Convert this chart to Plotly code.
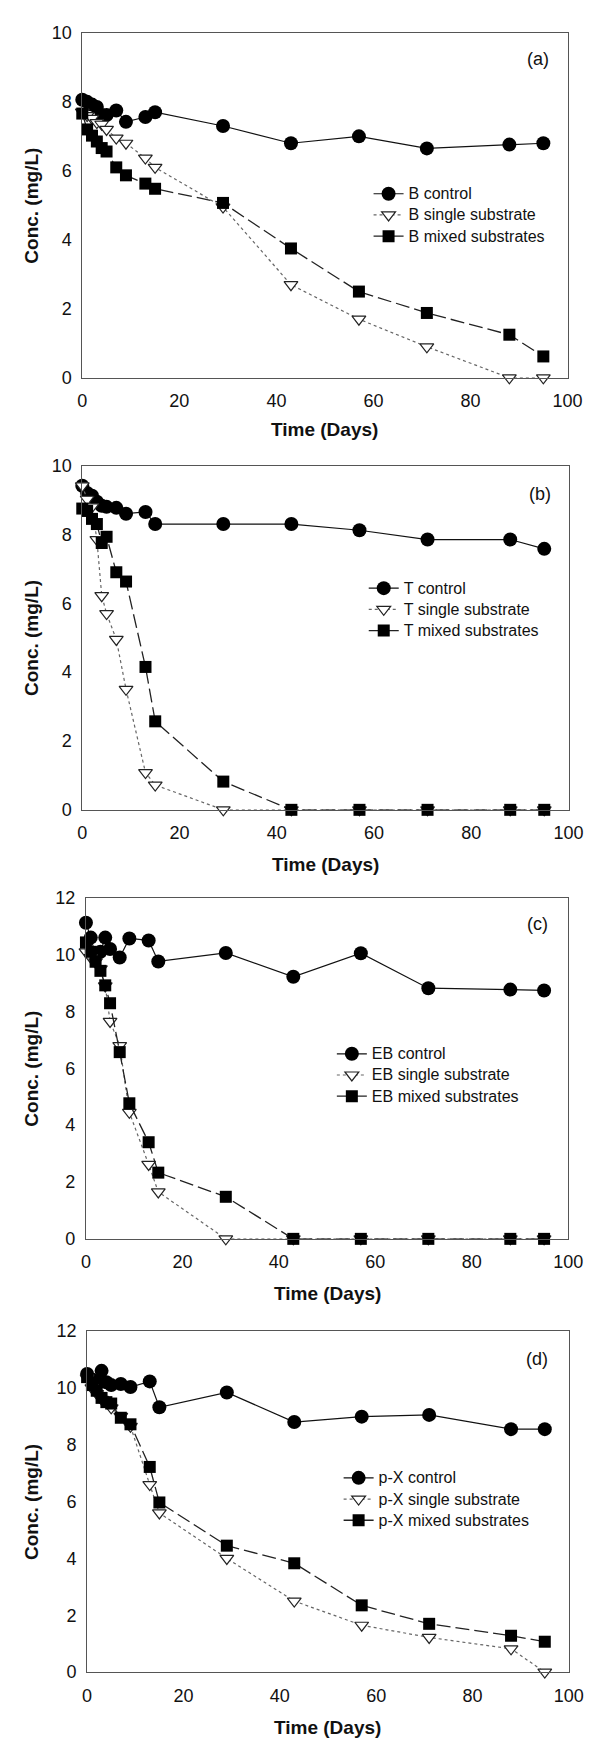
import plotly.graph_objects as go

# ---------------- data ----------------
time_days = [0, 1, 2, 3, 4, 5, 7, 9, 13, 15, 29, 43, 57, 71, 88, 95]

B_control = [8.06, 8.0, 7.92, 7.85, 7.62, 7.62, 7.75, 7.42, 7.56, 7.7, 7.3, 6.8, 7.0, 6.65, 6.76, 6.8]
B_single = [7.7, 7.6, 7.52, 7.4, 7.35, 7.2, 6.95, 6.8, 6.37, 6.1, 4.95, 2.7, 1.7, 0.9, 0.0, 0.0]
B_mixed = [7.66, 7.2, 7.02, 6.85, 6.66, 6.56, 6.1, 5.87, 5.63, 5.48, 5.07, 3.75, 2.5, 1.88, 1.25, 0.62]

T_control = [9.41, 9.2, 9.12, 8.95, 8.83, 8.8, 8.77, 8.6, 8.65, 8.3, 8.3, 8.3, 8.12, 7.85, 7.85, 7.58]
T_single = [9.41, 9.02, 8.8, 7.85, 6.22, 5.7, 4.95, 3.5, 1.08, 0.72, 0.0, 0.0, 0.0, 0.0, 0.0, 0.0]
T_mixed = [8.75, 8.68, 8.45, 8.3, 7.75, 7.93, 6.9, 6.63, 4.15, 2.57, 0.82, 0.0, 0.0, 0.0, 0.0, 0.0]

EB_control = [11.12, 10.6, 9.97, 10.1, 10.6, 10.2, 9.9, 10.57, 10.5, 9.76, 10.06, 9.22, 10.05, 8.82, 8.77, 8.74]
EB_single = [10.1, 9.9, 9.75, 9.5, 8.9, 7.65, 6.8, 4.45, 2.62, 1.65, 0.0, 0.0, 0.0, 0.0, 0.0, 0.0]
EB_mixed = [10.43, 10.1, 9.75, 9.43, 8.92, 8.29, 6.57, 4.77, 3.4, 2.33, 1.48, 0.0, 0.0, 0.0, 0.0, 0.0]

pX_control = [10.49, 10.3, 10.2, 10.6, 10.2, 10.1, 10.14, 10.03, 10.23, 9.32, 9.84, 8.8, 8.99, 9.05, 8.55, 8.55]
pX_single = [10.35, 10.0, 9.8, 9.6, 9.5, 9.3, 9.0, 8.65, 6.6, 5.6, 4.0, 2.5, 1.65, 1.22, 0.82, 0.0]
pX_mixed = [10.38, 10.1, 9.9, 9.65, 9.5, 9.45, 8.95, 8.72, 7.22, 5.97, 4.45, 3.83, 2.35, 1.7, 1.28, 1.07]

compounds = ["B", "T", "EB", "p-X"]
panel_labels = ["(a)", "(b)", "(c)", "(d)"]
y_max = [10, 10, 12, 12]
x_ticks = [0, 20, 40, 60, 80, 100]
x_title = "Time (Days)"
y_title = "Conc. (mg/L)"
series_names = ["control", "single substrate", "mixed substrates"]
values = [
    [B_control, B_single, B_mixed],
    [T_control, T_single, T_mixed],
    [EB_control, EB_single, EB_mixed],
    [pX_control, pX_single, pX_mixed],
]

# ---------------- layout geometry (pixels) ----------------
W, H = 592, 1746
plot_px = [  # left, right, top, bottom
    (71.7, 574.0, 15.0, 364.0),
    (71.7, 575.0, 452.7, 801.0),
    (75.5, 574.6, 890.0, 1235.0),
    (76.7, 575.3, 1328.3, 1673.3),
]
legend_px = [(368, 162), (363, 561), (330, 1032), (337, 1461)]
xtitle_py = [416.7, 856.7, 1290.0, 1729.0]
label_px = [(543.7, 41.7), (545.5, 481.7), (542.5, 916.7), (542.5, 1356.7)]

FONT = "Arial, Liberation Sans, sans-serif"
styles = [
    dict(mode="lines+markers", line=dict(color="#111", width=1.2),
         marker=dict(symbol="circle", size=14, color="#000", line=dict(width=0))),
    dict(mode="lines+markers", line=dict(color="#666", width=1.2, dash="dot"),
         marker=dict(symbol="triangle-down", size=12, color="white", line=dict(color="#222", width=1.2))),
    dict(mode="lines+markers", line=dict(color="#222", width=1.3, dash="14px,5px"),
         marker=dict(symbol="square", size=12, color="#000", line=dict(width=0))),
]

fig = go.Figure()
annotations = []
layout = {}

for i in range(4):
    sfx = "" if i == 0 else str(i + 1)
    l, r, t, b = plot_px[i]
    xdom = [l / W, r / W]
    ydom = [1 - b / H, 1 - t / H]
    lg = "legend" + sfx
    for k in range(3):
        label = f"{compounds[i]} {series_names[k]}"
        fig.add_trace(go.Scatter(
            x=time_days, y=values[i][k],
            name=f'<span style="font-size:16px">{label}</span>',
            xaxis="x" + sfx, yaxis="y" + sfx, legend=lg,
            cliponaxis=False, **styles[k]))
    axis_common = dict(showline=True, mirror=True, linecolor="#555", linewidth=1,
                       ticks="", showgrid=False, zeroline=False,
                       tickfont=dict(family=FONT, size=18, color="#111"))
    layout["xaxis" + sfx] = dict(domain=xdom, range=[0, 100], tickvals=x_ticks,
                                 anchor="y" + sfx, ticklabelstandoff=7, **axis_common)
    layout["yaxis" + sfx] = dict(domain=ydom, range=[0, y_max[i]], dtick=2,
                                 anchor="x" + sfx, ticklabelstandoff=6, **axis_common)
    lx, ly = legend_px[i]
    layout[lg] = dict(x=lx / W, y=1 - ly / H, xanchor="left", yanchor="top",
                      bgcolor="rgba(0,0,0,0)", borderwidth=0,
                      font=dict(family=FONT, size=14, color="#111"),
                      tracegroupgap=0)
    annotations.append(dict(text=x_title, x=(l + r) / 2 / W, y=1 - xtitle_py[i] / H,
                            xref="paper", yref="paper", showarrow=False,
                            xanchor="center", yanchor="middle",
                            font=dict(family=FONT, size=19, color="#111", weight="bold")))
    annotations.append(dict(text=y_title, x=19 / W, y=1 - (t + b) / 2 / H,
                            xref="paper", yref="paper", showarrow=False, textangle=-90,
                            xanchor="center", yanchor="middle",
                            font=dict(family=FONT, size=19, color="#111", weight="bold")))
    px_, py_ = label_px[i]
    annotations.append(dict(text=panel_labels[i], x=px_ / W, y=1 - py_ / H,
                            xref="paper", yref="paper", showarrow=False,
                            xanchor="center", yanchor="middle",
                            font=dict(family=FONT, size=18, color="#111")))

fig.update_layout(width=W, height=H, margin=dict(l=0, r=0, t=0, b=0),
                  paper_bgcolor="white", plot_bgcolor="white",
                  showlegend=True, annotations=annotations, **layout)

fig.write_html("out.html")
